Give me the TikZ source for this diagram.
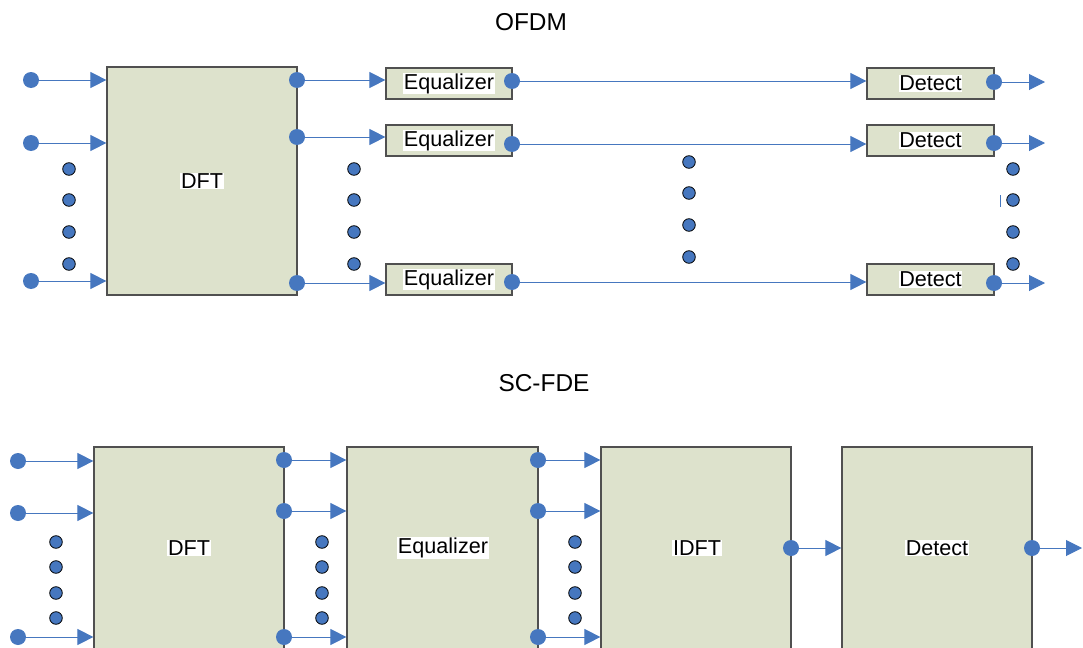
\documentclass[tikz,border=0pt]{standalone}
\usepackage{fontspec}
\setmainfont{Liberation Sans}
\usetikzlibrary{arrows.meta}
\definecolor{dotblue}{HTML}{4677BF}
\definecolor{boxfill}{HTML}{DDE2CC}
\definecolor{boxline}{HTML}{505050}
\tikzset{
  blk/.style={draw=boxline, fill=boxfill, line width=0.6pt, inner sep=0pt},
  lbl/.style={fill=white, inner sep=0.3pt, font=\fontsize{10.8}{13}\selectfont},
  ttl/.style={font=\fontsize{12.2}{14}\selectfont},
  bigdot/.style={circle, fill=dotblue, inner sep=0pt, minimum size=8pt},
  smalldot/.style={circle, fill=dotblue, draw=black, line width=0.4pt, inner sep=0pt, minimum size=6.3pt},
  arr/.style={draw=dotblue, line width=0.5pt, -{Triangle[length=8pt, width=8pt]}},
}
\begin{document}
\begin{tikzpicture}[x=0.5pt, y=-0.5pt]
\useasboundingbox (0,0) rectangle (1083,648);
\clip (0,0) rectangle (1083,648);

% OFDM
\node[ttl] (ofdm) at (531,22) {OFDM};
\node[blk, minimum width=95pt, minimum height=114pt] (dft) at (202,181) {};
\node[lbl] (dftl) at (dft.center) {DFT};

\foreach \n/\yi/\yo/\ye/\yd/\yb in {1/80/80/81/82/83.5, 2/143/137/144/143/140.5, 3/281/283/282/283/279.5}{
  \node[bigdot] (in\n) at (31,\yi) {};
  \node[bigdot] (do\n) at (297,\yo) {};
  \node[blk, minimum width=63pt, minimum height=15.5pt] (eq\n) at (449,\yb) {};
  \node[lbl] (eql\n) at (eq\n.center) {Equalizer};
  \node[bigdot] (eo\n) at (512,\ye) {};
  \node[blk, minimum width=63.5pt, minimum height=15.5pt] (det\n) at (930.5,\yb) {};
  \node[lbl] (detl\n) at (det\n.center) {Detect};
  \node[bigdot] (to\n) at (994,\yd) {};
  \coordinate (end\n) at (1045,\yd);
  \draw[arr] (in\n) -- (in\n -| dft.west);
  \draw[arr] (do\n) -- (do\n -| eq\n.west);
  \draw[arr] (eo\n) -- (eo\n -| det\n.west);
  \draw[arr] (to\n) -- (end\n);
}

\foreach \x in {69,354,1013}
  \foreach \y in {169,200,232,264}
    \node[smalldot] (sd\x-\y) at (\x,\y) {};
\foreach \y in {162,193,225,257}
  \node[smalldot] (sm\y) at (689,\y) {};
\draw[dotblue, line width=0.5pt] (1000,195) -- (1000,207);

% SC-FDE
\node[ttl] (scfde) at (544,383) {SC-FDE};
\node[blk, minimum width=95pt, minimum height=141.5pt] (dftb) at (189,588.5) {};
\node[blk, minimum width=95.5pt, minimum height=141.5pt] (eqb) at (442.5,588.5) {};
\node[blk, minimum width=95pt, minimum height=141.5pt] (idft) at (696,588.5) {};
\node[blk, minimum width=95pt, minimum height=141.5pt] (detb) at (937,588.5) {};
\node[lbl] (dftbl) at (189,548) {DFT};
\node[lbl] (eqbl) at (443,548) {Equalizer};
\node[lbl] (idftl) at (697,548) {IDFT};
\node[lbl] (detbl) at (937,548) {Detect};

\foreach \n/\yi/\yo in {1/461/460, 2/513/511, 3/637/637}{
  \node[bigdot] (bi\n) at (18,\yi) {};
  \node[bigdot] (bd\n) at (284,\yo) {};
  \node[bigdot] (be\n) at (538,\yo) {};
  \draw[arr] (bi\n) -- (bi\n -| dftb.west);
  \draw[arr] (bd\n) -- (bd\n -| eqb.west);
  \draw[arr] (be\n) -- (be\n -| idft.west);
}
\node[bigdot] (io) at (791,548) {};
\node[bigdot] (bo) at (1032,548) {};
\coordinate (bend) at (1082,548);
\draw[arr] (io) -- (io -| detb.west);
\draw[arr] (bo) -- (bend);

\foreach \x in {56,322,575}
  \foreach \y in {542,567,593,618}
    \node[smalldot] (bs\x-\y) at (\x,\y) {};
\end{tikzpicture}
\end{document}
